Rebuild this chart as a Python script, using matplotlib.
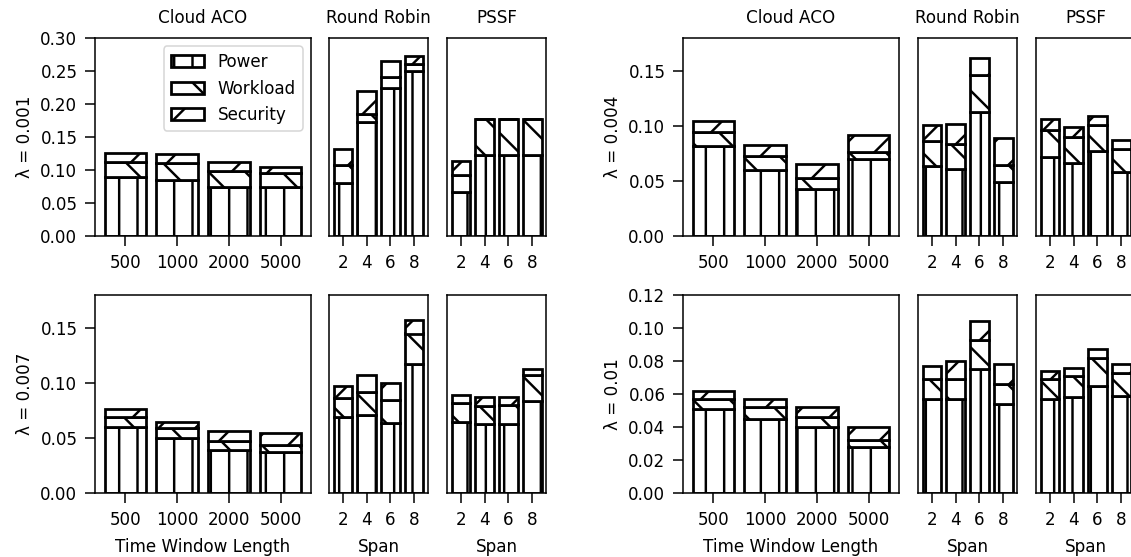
import matplotlib
matplotlib.use('Agg')
import matplotlib.pyplot as plt
import numpy as np

# Categories
windows = ['500', '1000', '2000', '5000']
spans = [2, 4, 6, 8]
lambdas = ['0.001', '0.004', '0.007', '0.01']
methods = ['Cloud ACO', 'Round Robin', 'PSSF']

# Values, one row per lambda (0.001, 0.004, 0.007, 0.01)
aco_power = [[0.089, 0.085, 0.075, 0.075],
             [0.082, 0.060, 0.043, 0.070],
             [0.060, 0.050, 0.039, 0.037],
             [0.051, 0.045, 0.040, 0.028]]
aco_workload = [[0.023, 0.025, 0.024, 0.021],
                [0.013, 0.013, 0.010, 0.006],
                [0.009, 0.009, 0.008, 0.007],
                [0.006, 0.007, 0.006, 0.004]]
aco_security = [[0.014, 0.014, 0.013, 0.008],
                [0.010, 0.010, 0.012, 0.016],
                [0.007, 0.006, 0.009, 0.011],
                [0.005, 0.005, 0.006, 0.008]]

rr_power = [[0.080, 0.172, 0.224, 0.250],
            [0.064, 0.061, 0.113, 0.049],
            [0.069, 0.071, 0.064, 0.117],
            [0.057, 0.057, 0.075, 0.054]]
rr_workload = [[0.027, 0.013, 0.017, 0.010],
               [0.022, 0.023, 0.033, 0.016],
               [0.017, 0.021, 0.021, 0.028],
               [0.012, 0.012, 0.018, 0.012]]
rr_security = [[0.025, 0.035, 0.024, 0.013],
               [0.015, 0.018, 0.016, 0.024],
               [0.011, 0.015, 0.015, 0.012],
               [0.008, 0.011, 0.011, 0.012]]

pssf_power = [[0.066, 0.123, 0.123, 0.123],
              [0.072, 0.066, 0.077, 0.058],
              [0.065, 0.063, 0.063, 0.084],
              [0.057, 0.058, 0.065, 0.059]]
pssf_workload = [[0.026, 0.054, 0.054, 0.054],
                 [0.024, 0.024, 0.024, 0.021],
                 [0.017, 0.016, 0.017, 0.023],
                 [0.012, 0.013, 0.017, 0.014]]
pssf_security = [[0.021, 0.0, 0.0, 0.0],
                 [0.010, 0.009, 0.008, 0.008],
                 [0.007, 0.008, 0.007, 0.006],
                 [0.005, 0.005, 0.005, 0.005]]

y_max = [0.30, 0.18, 0.18, 0.12]
y_step = [0.05, 0.05, 0.05, 0.02]

plt.rcParams['font.size'] = 11
plt.rcParams['hatch.linewidth'] = 1.6
plt.rcParams['axes.linewidth'] = 1.0

W, H, DPI = 1131, 557, 110
fig = plt.figure(figsize=(W / DPI, H / DPI), dpi=DPI)


def px(x, y, w, h):
    # pixel box (from top-left) -> figure fraction
    return [x / W, 1 - (y + h) / H, w / W, h / H]


# left edges of the three axes in each group, and top of each row
group_x = [[95, 329, 447], [683, 918, 1036], [95, 329, 447], [683, 918, 1036]]
group_y = [38, 38, 295, 295]
widths = [216, 99, 99]
height = 198

data = [(aco_power, aco_workload, aco_security),
        (rr_power, rr_workload, rr_security),
        (pssf_power, pssf_workload, pssf_security)]

for g in range(4):
    for m in range(3):
        ax = fig.add_axes(px(group_x[g][m], group_y[g], widths[m], height))
        power = np.array(data[m][0][g])
        work = np.array(data[m][1][g])
        sec = np.array(data[m][2][g])
        if m == 0:
            x = np.arange(len(windows))
            bw = 0.8
        else:
            x = np.array(spans)
            bw = 1.6
        style = dict(width=bw, color='white', edgecolor='black', linewidth=1.8)
        ax.bar(x, power, hatch='|', label='Power', **style)
        ax.bar(x, work, bottom=power, hatch='\\', label='Workload', **style)
        ax.bar(x, sec, bottom=power + work, hatch='/', label='Security', **style)

        ax.set_ylim(0, y_max[g])
        ax.tick_params(length=6.5, pad=5, width=1.0)
        if m == 0:
            ax.set_xticks(x)
            ax.set_xticklabels(windows)
            ax.set_yticks(np.arange(0, y_max[g] + 1e-9, y_step[g]))
            ax.set_ylabel('λ = ' + lambdas[g])
        else:
            ax.set_xticks(spans)
            ax.tick_params(left=False, labelleft=False)

        if g < 2:
            ax.set_title(methods[m], pad=10, fontsize=11)
        else:
            ax.set_xlabel('Time Window Length' if m == 0 else 'Span', labelpad=6)

        if g == 0 and m == 0:
            ax.legend(loc='upper right')

fig.savefig('out.png', dpi=DPI)
